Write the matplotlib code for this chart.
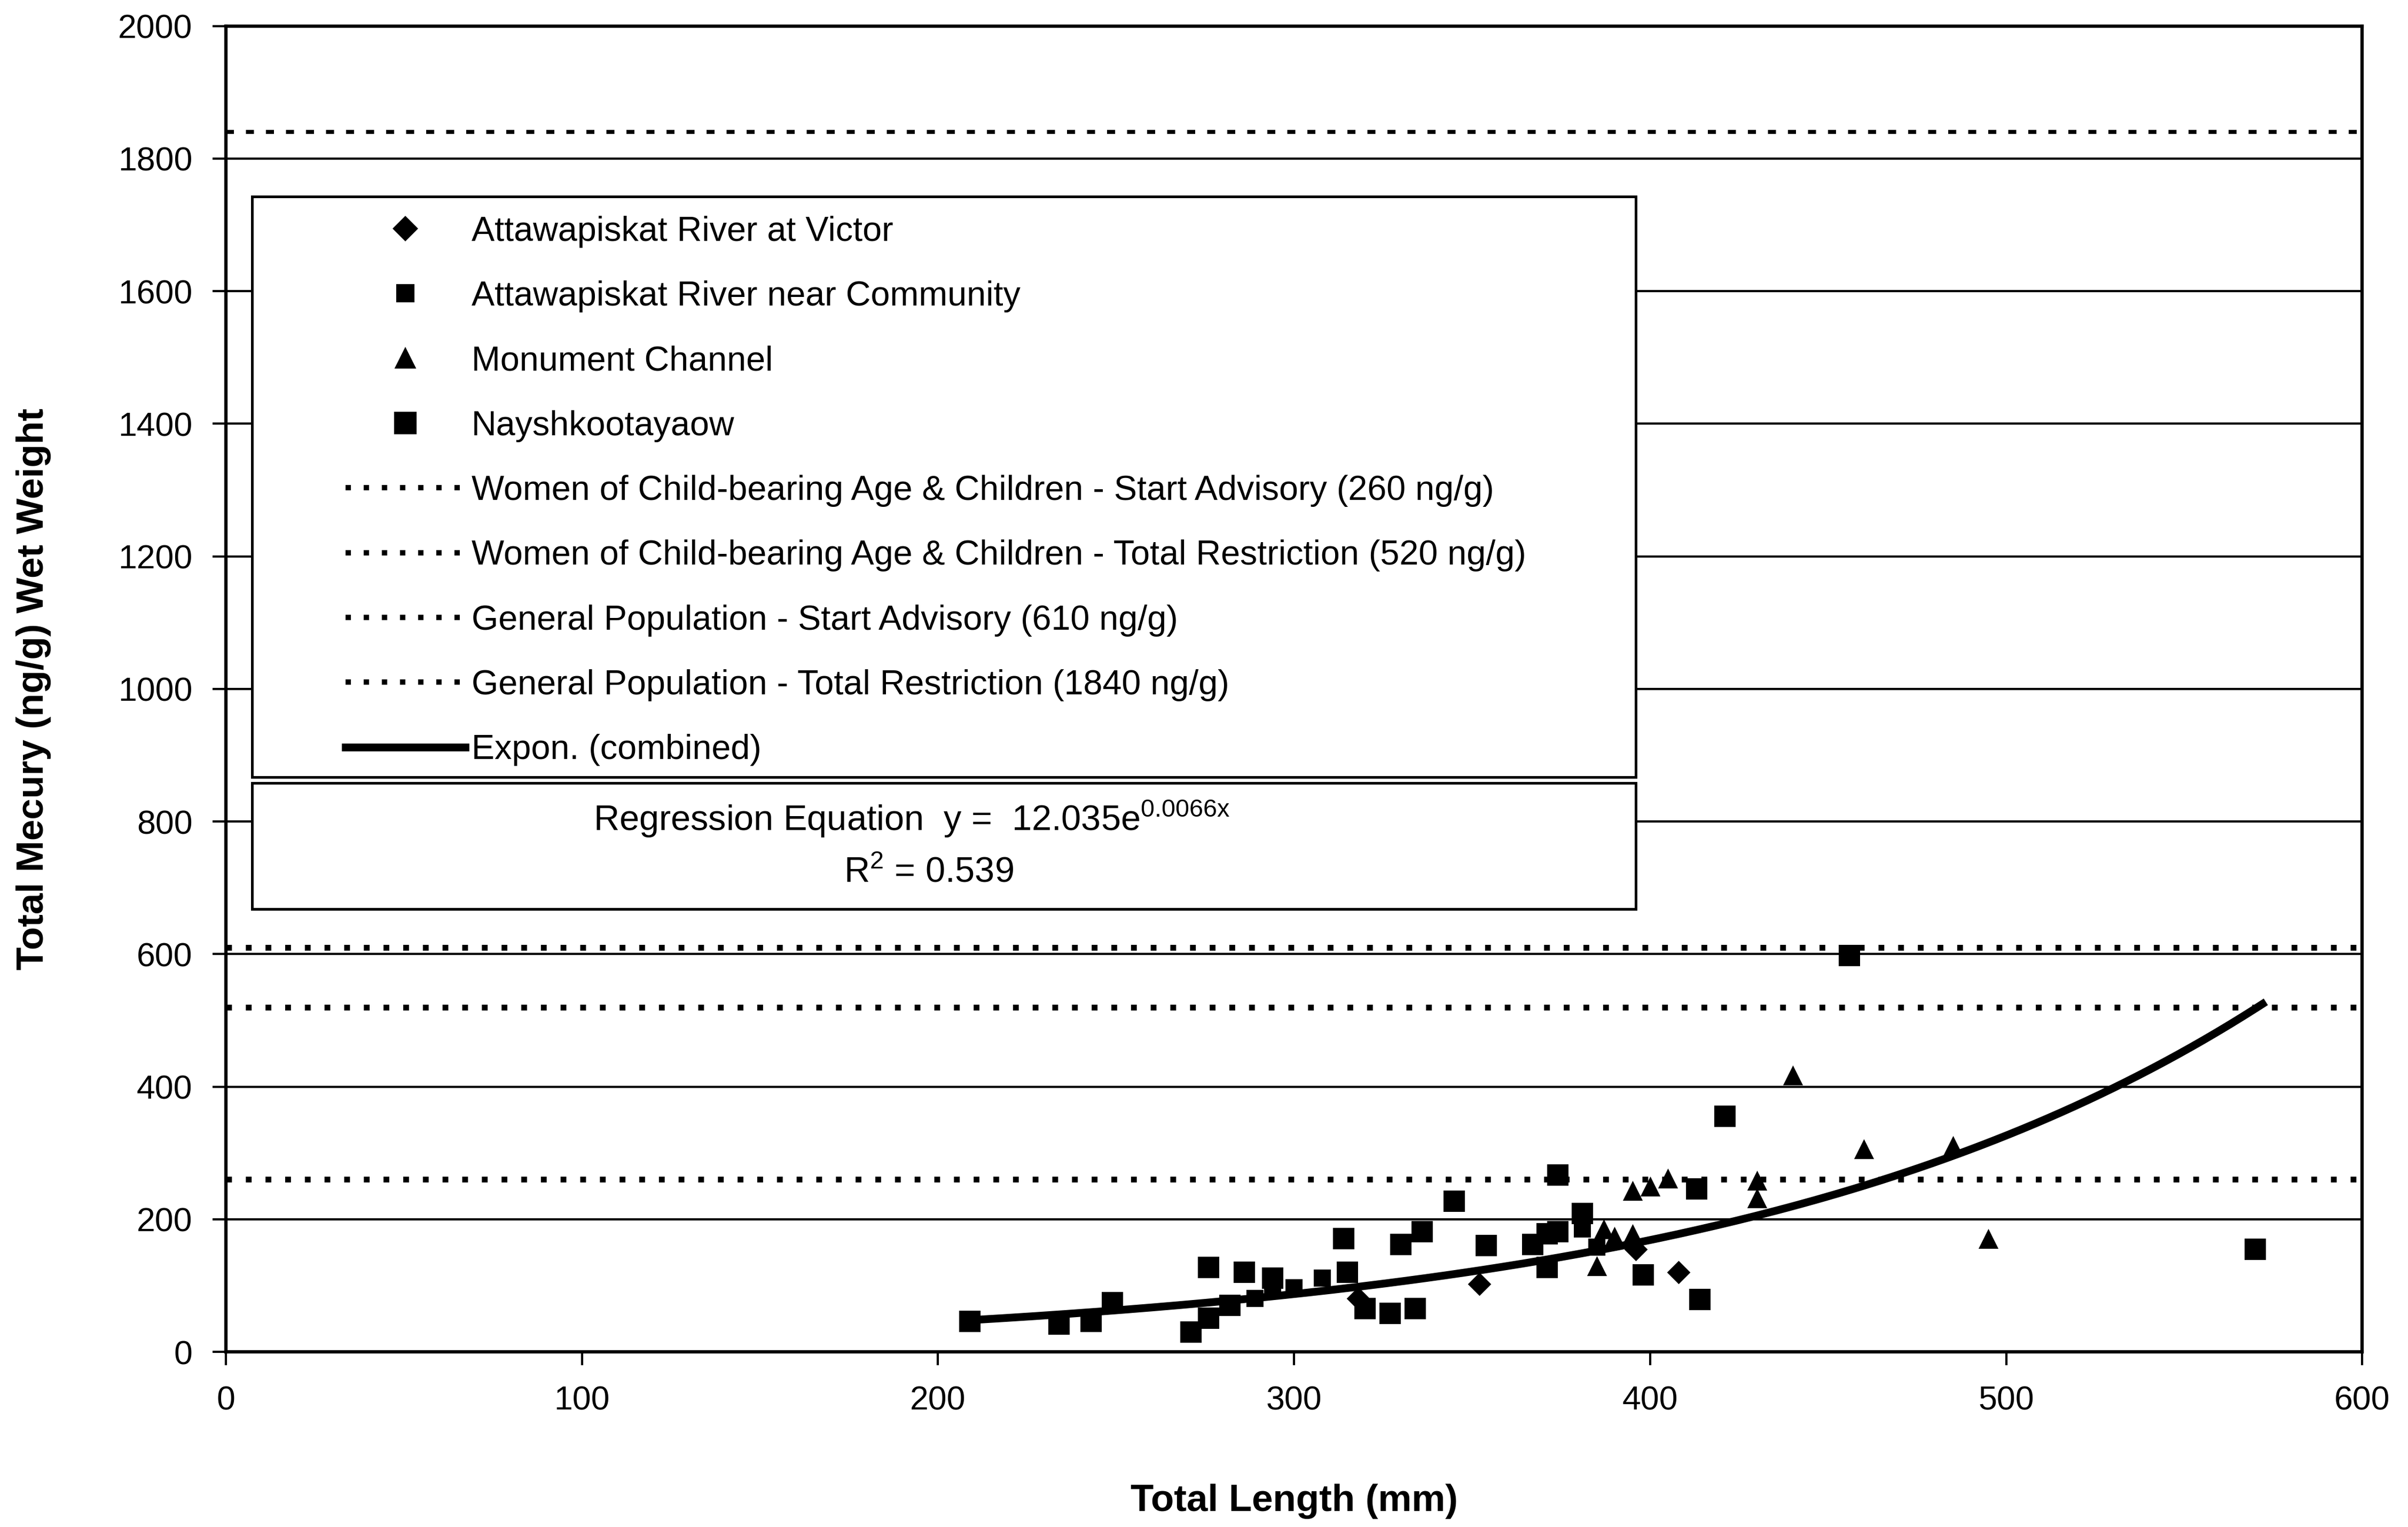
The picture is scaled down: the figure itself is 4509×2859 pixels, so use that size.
import numpy as np
import matplotlib.pyplot as plt
from matplotlib.lines import Line2D
from matplotlib.patches import Rectangle

plt.rcParams['font.family'] = ['Liberation Sans', 'DejaVu Sans']
plt.rcParams['mathtext.default'] = 'regular'

# Attawapiskat River at Victor (diamonds)
victor_x = [318, 352, 396, 408]
victor_y = [81, 102, 155, 120]

# Attawapiskat River near Community (small squares)
community_x = [289, 294, 300, 308, 381, 385]
community_y = [81, 93, 97, 111, 185, 158]

# Monument Channel (triangles)
monument_x = [385, 387, 390, 395, 395, 400, 405, 430, 430, 440, 460, 485, 495]
monument_y = [130, 185, 174, 243, 178, 250, 262, 259, 232, 417, 306, 311, 171]

# Nayshkootayaow (squares)
naysh_x = [209, 234, 243, 249, 271, 276, 276, 282, 286, 294, 314, 315, 320,
           327, 330, 334, 336, 345, 354, 367, 371, 371, 374, 374, 381, 398,
           413, 414, 421, 456, 570]
naysh_y = [46, 42, 46, 74, 30, 127, 51, 70, 120, 111, 171, 120, 65,
           58, 162, 65, 181, 227, 160, 162, 178, 127, 267, 181, 209, 116,
           246, 79, 355, 598, 155]

# advisory levels (ng/g)
advisory_levels = [260, 520, 610, 1840]
advisory_labels = [
    'Women of Child-bearing Age & Children - Start Advisory (260 ng/g)',
    'Women of Child-bearing Age & Children - Total Restriction (520 ng/g)',
    'General Population - Start Advisory (610 ng/g)',
    'General Population - Total Restriction (1840 ng/g)',
]

# exponential fit y = a * exp(b x)
fit_a = 12.035
fit_b = 0.0066
fit_range = [209, 572]

fig = plt.figure(figsize=(4509 / 300, 2859 / 300), dpi=300)
ax = fig.add_axes([0.0938, 0.1147, 0.8872, 0.8683])

ax.set_xlim(0, 600)
ax.set_ylim(0, 2000)
ax.set_xticks(range(0, 601, 100))
ax.set_yticks(range(0, 2001, 200))
ax.yaxis.grid(True, color='black', linewidth=1.0)
ax.set_axisbelow(True)
for s in ax.spines.values():
    s.set_linewidth(1.5)
ax.tick_params(labelsize=15, length=6, width=1.0, direction='out')
ax.tick_params(axis='x', pad=9)
ax.tick_params(axis='y', pad=9)

dot = (0, (1, 2.4))
for lev in advisory_levels[:3]:
    ax.axhline(lev, color='black', linewidth=2.6, linestyle=dot, zorder=2)
ax.axhline(advisory_levels[3], color='black', linewidth=1.8, linestyle=(0, (2, 3)), zorder=2)

xs = np.linspace(fit_range[0], fit_range[1], 200)
ax.plot(xs, fit_a * np.exp(fit_b * xs), color='black', linewidth=3.5, zorder=3)

ax.scatter(naysh_x, naysh_y, marker='s', s=95, color='black', zorder=4, linewidths=0)
ax.scatter(community_x, community_y, marker='s', s=60, color='black', zorder=4, linewidths=0)
ax.scatter(monument_x, monument_y, marker='^', s=80, color='black', zorder=4, linewidths=0)
ax.scatter(victor_x, victor_y, marker='D', s=55, color='black', zorder=4, linewidths=0)

ax.set_xlabel('Total Length (mm)', fontsize=17, fontweight='bold', labelpad=30)
ax.set_ylabel('Total Mecury (ng/g) Wet Weight', fontsize=17, fontweight='bold', labelpad=30)

handles = [
    Line2D([], [], marker='D', color='black', linestyle='none', markersize=7),
    Line2D([], [], marker='s', color='black', linestyle='none', markersize=7),
    Line2D([], [], marker='^', color='black', linestyle='none', markersize=8),
    Line2D([], [], marker='s', color='black', linestyle='none', markersize=9),
]
for _ in advisory_labels:
    handles.append(Line2D([], [], color='black', linewidth=2.4, linestyle=dot))
handles.append(Line2D([], [], color='black', linewidth=3.5))
labels = ['Attawapiskat River at Victor', 'Attawapiskat River near Community',
          'Monument Channel', 'Nayshkootayaow'] + advisory_labels + ['Expon. (combined)']

# legend frame drawn separately so the entries can sit indented
ax.add_patch(Rectangle((0.0122, 0.4334), 0.6478, 0.438, transform=ax.transAxes,
                       facecolor='white', edgecolor='black', linewidth=1.2, zorder=5))
leg = ax.legend(handles, labels, loc='upper left', bbox_to_anchor=(0.056, 0.857),
                fontsize=15.5, handlelength=3.47, handletextpad=0.18,
                labelspacing=0.95, borderpad=0, borderaxespad=0, frameon=False)
leg.set_zorder(6)

ax.add_patch(Rectangle((0.0122, 0.334), 0.6478, 0.095, transform=ax.transAxes,
                       facecolor='white', edgecolor='black', linewidth=1.2, zorder=5))
ax.text(0.321, 0.402, 'Regression Equation  y =  12.035e$^{0.0066x}$', transform=ax.transAxes,
        ha='center', va='center', fontsize=16, zorder=6)
ax.text(0.329, 0.361, 'R$^2$ = 0.539', transform=ax.transAxes,
        ha='center', va='center', fontsize=16, zorder=6)

fig.savefig('out.png', dpi=300)
